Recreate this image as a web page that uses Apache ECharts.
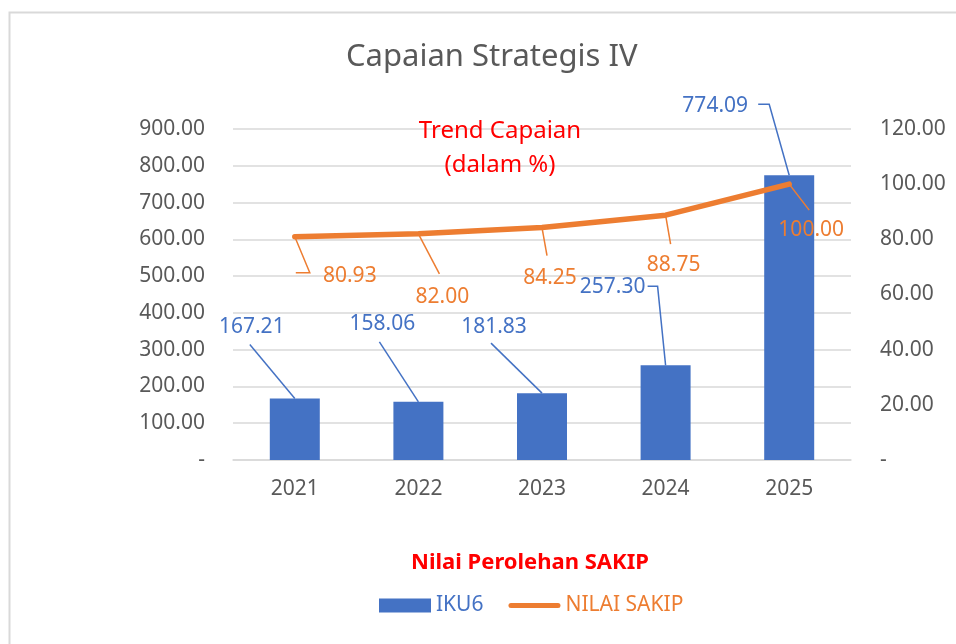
<!DOCTYPE html>
<html>
<head>
<meta charset="utf-8">
<script src="https://cdn.jsdelivr.net/npm/echarts@6/dist/echarts.min.js"></script>
<style>
html,body{margin:0;padding:0;background:#fff;}
#c{width:956px;height:644px;}
</style>
</head>
<body>
<div id="c"></div>
<script>
const categories = ['2021', '2022', '2023', '2024', '2025'];
const ikuValues = [167.21, 158.06, 181.83, 257.30, 774.09];
const sakipValues = [80.93, 82.00, 84.25, 88.75, 100.00];
const leftTicks = [0, 100, 200, 300, 400, 500, 600, 700, 800, 900];
const rightTicks = [0, 20, 40, 60, 80, 100, 120];

// label centre offsets (px, relative to the mark anchor)
const barLabelOffsets = [[-43, -71], [-36, -78], [-48, -66], [-53, -78], [-74, -69]];
const lineLabelOffsets = [[55, 39], [24, 63], [8, 50], [8, 50], [22, 46]];
// leader line bend points (px, relative to the mark anchor)
const barLeaderPts = [[[-45, -54]], [[-39, -60]], [[-51, -50]], [[-18, -79], [-8, -79]], [[-31, -71], [-20, -71]]];
const lineLeaderPts = [[[1, 36], [15, 36]], [[21, 40]], [[5, 28]], [[5, 29]], [[20, 26]]];

const BLUE = '#4472C4', ORANGE = '#ED7D31', GREY = '#595959';
const FONT = '"Noto Sans", "Open Sans", sans-serif';

const chart = echarts.init(document.getElementById('c'), null, {renderer: 'canvas'});

function barLayout(p) {
  const o = barLabelOffsets[p.dataIndex];
  const ax = p.rect.x + p.rect.width / 2, ay = p.rect.y;
  return {x: ax + o[0], y: ay + o[1], align: 'center', verticalAlign: 'middle'};
}
function lineLayout(p) {
  const o = lineLabelOffsets[p.dataIndex];
  const ax = p.rect.x + p.rect.width / 2, ay = p.rect.y + p.rect.height / 2;
  return {x: ax + o[0], y: ay + o[1], align: 'center', verticalAlign: 'middle'};
}
function leaderRenderer(ptsList, color) {
  return function (params, api) {
    const a = api.coord([api.value(0), api.value(1)]);
    const pts = ptsList[params.dataIndex].map(d => [a[0] + d[0], a[1] + d[1]]);
    pts.push([a[0], a[1]]);
    return {type: 'polyline', shape: {points: pts}, style: {stroke: color, lineWidth: 1.5, fill: null}, silent: true};
  };
}

const option = {
  backgroundColor: '#fff',
  animation: false,
  textStyle: {fontFamily: FONT},
  title: {
    text: 'Capaian Strategis IV',
    left: 341,
    top: 37,
    textStyle: {fontFamily: FONT, fontSize: 31, fontWeight: 'normal', color: GREY}
  },
  graphic: [
    {type: 'rect', left: 7, top: 10, shape: {width: 1000, height: 1000}, style: {fill: 'none', stroke: '#d9d9d9', lineWidth: 2}, silent: true, z: -1},
    {type: 'text', x: 500, y: 131, style: {text: 'Trend Capaian', fill: '#FF0000', font: '24px ' + FONT, textAlign: 'center', textVerticalAlign: 'middle'}, z: 10},
    {type: 'text', x: 500, y: 165, style: {text: '(dalam %)', fill: '#FF0000', font: '24px ' + FONT, textAlign: 'center', textVerticalAlign: 'middle'}, z: 10},
    {type: 'text', x: 530, y: 563, style: {text: 'Nilai Perolehan SAKIP', fill: '#FF0000', font: 'bold 22px ' + FONT, textAlign: 'center', textVerticalAlign: 'middle'}, z: 10}
  ],
  legend: {
    left: 374,
    top: 590,
    itemGap: 25,
    itemWidth: 52,
    itemHeight: 14,
    textStyle: {fontFamily: FONT, fontSize: 21},
    data: [
      {name: 'IKU6', icon: 'rect', textStyle: {color: BLUE}},
      {name: 'NILAI SAKIP', icon: 'path://M2.5,0 L49.5,0 A2.5,2.5 0 0 1 49.5,5 L2.5,5 A2.5,2.5 0 0 1 2.5,0 Z', textStyle: {color: ORANGE}}
    ]
  },
  grid: {left: 233, right: 105, top: 129, bottom: 184, containLabel: false},
  xAxis: {
    type: 'category',
    data: categories,
    axisLine: {lineStyle: {color: '#d9d9d9', width: 1.5}},
    axisTick: {show: false},
    axisLabel: {color: GREY, fontSize: 21, fontFamily: FONT, margin: 19}
  },
  yAxis: [
    {
      type: 'value', min: leftTicks[0], max: leftTicks[leftTicks.length - 1], interval: 100,
      axisLine: {show: false}, axisTick: {show: false},
      splitLine: {lineStyle: {color: '#d9d9d9', width: 1.5}},
      axisLabel: {color: GREY, fontSize: 21, fontFamily: FONT, margin: 28,
        formatter: v => v === 0 ? '-' : v.toFixed(2)}
    },
    {
      type: 'value', min: rightTicks[0], max: rightTicks[rightTicks.length - 1], interval: 20,
      axisLine: {show: false}, axisTick: {show: false}, splitLine: {show: false},
      axisLabel: {color: GREY, fontSize: 21, fontFamily: FONT, margin: 29, align: 'left',
        formatter: v => v === 0 ? '-' : v.toFixed(2)}
    }
  ],
  series: [
    {
      name: 'IKU6', type: 'bar', yAxisIndex: 0, data: ikuValues,
      barWidth: 50,
      itemStyle: {color: BLUE},
      label: {show: true, position: 'top', color: BLUE, fontSize: 21, fontFamily: FONT,
        formatter: p => p.value.toFixed(2)},
      labelLayout: barLayout,
      z: 2
    },
    {
      name: 'IKU6 leaders', type: 'custom', yAxisIndex: 0, silent: true,
      data: ikuValues.map((v, i) => [i, v]),
      renderItem: leaderRenderer(barLeaderPts, BLUE),
      z: 4
    },
    {
      name: 'NILAI SAKIP', type: 'line', yAxisIndex: 1, data: sakipValues,
      symbol: 'circle', symbolSize: 1, showSymbol: true,
      itemStyle: {color: ORANGE},
      lineStyle: {color: ORANGE, width: 5.5, cap: 'round', join: 'round'},
      label: {show: true, position: 'bottom', color: ORANGE, fontSize: 21, fontFamily: FONT,
        formatter: p => p.value.toFixed(2)},
      labelLayout: lineLayout,
      z: 3
    },
    {
      name: 'SAKIP leaders', type: 'custom', yAxisIndex: 1, silent: true,
      data: sakipValues.map((v, i) => [i, v]),
      renderItem: leaderRenderer(lineLeaderPts, ORANGE),
      z: 4
    }
  ]
};
chart.setOption(option);
</script>
</body>
</html>
